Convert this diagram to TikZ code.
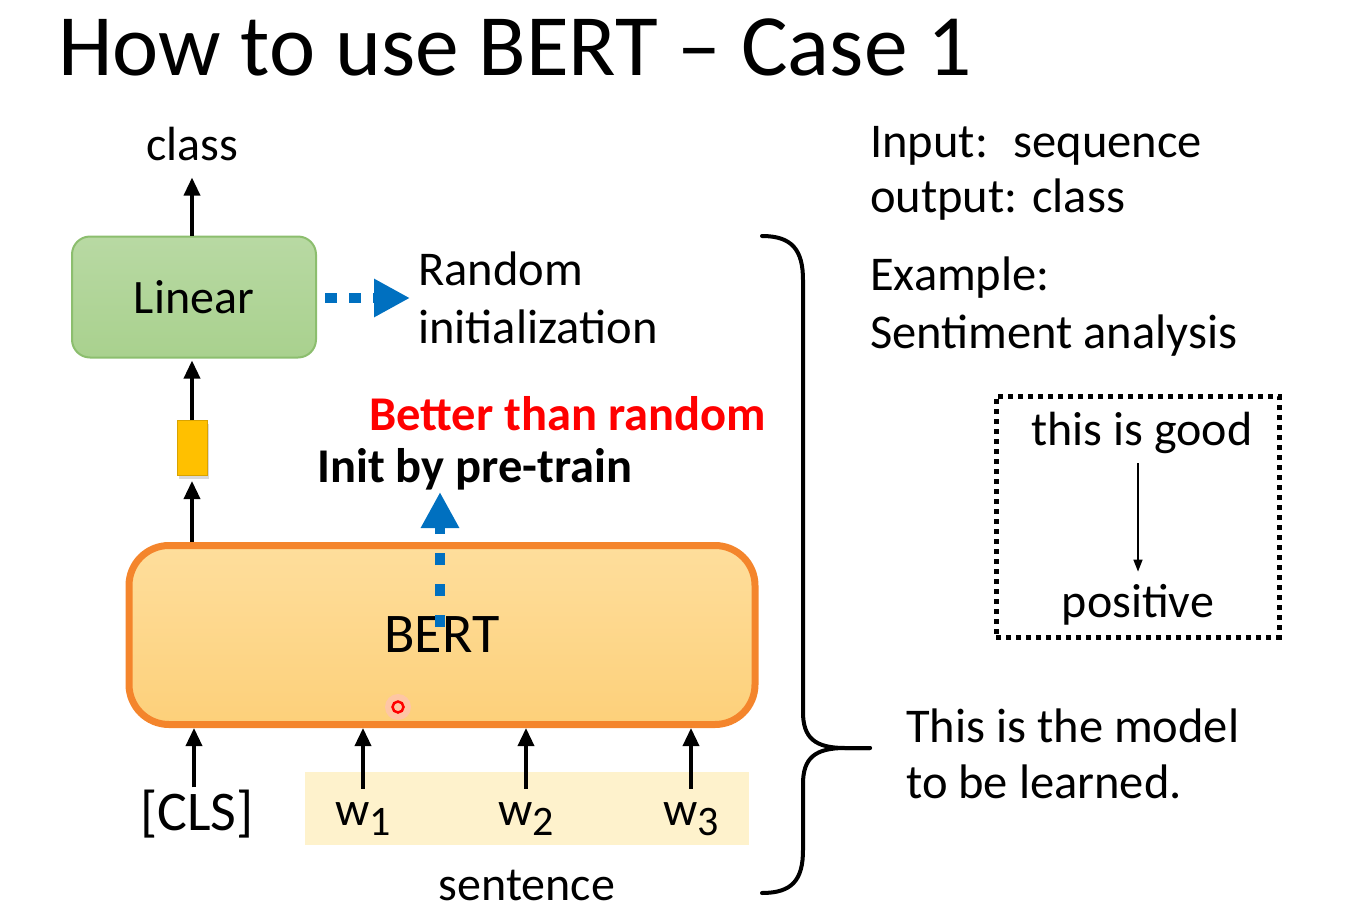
\documentclass[tikz,border=0pt]{standalone}
\usepackage{fontspec}
\setmainfont{Carlito}
\usetikzlibrary{positioning,arrows.meta,shadows}
\definecolor{linearFill}{RGB}{169,209,142}
\definecolor{linearTop}{RGB}{184,217,163}
\definecolor{linearLine}{RGB}{140,190,110}
\definecolor{bertLine}{RGB}{244,133,44}
\definecolor{bertTop}{RGB}{254,222,156}
\definecolor{bertBottom}{RGB}{253,208,122}
\definecolor{vectorFill}{RGB}{255,192,0}
\definecolor{bandFill}{RGB}{254,242,204}
\definecolor{initBlue}{RGB}{0,112,192}
\tikzstyle{plainText} = [font=\fontsize{48}{56}\selectfont, inner sep=0pt]
\tikzstyle{sideText} = [font=\fontsize{48.5}{56}\selectfont, inner sep=0pt, anchor=base west]
\tikzstyle{boldText} = [font=\fontsize{48.5}{56}\selectfont\bfseries, inner sep=0pt, anchor=base west]
\tikzstyle{titleText} = [font=\fontsize{87.5}{90}\selectfont, inner sep=0pt, anchor=base west]
\tikzstyle{linearBox} = [draw=linearLine, line width=2pt, rounded corners=18pt, top color=linearTop, bottom color=linearFill, minimum width=244pt, minimum height=121pt, font=\fontsize{48}{56}\selectfont]
\tikzstyle{bertBox} = [draw=bertLine, line width=7pt, rounded corners=40pt, top color=bertTop, bottom color=bertBottom, minimum width=626pt, minimum height=179pt, font=\fontsize{56}{60}\selectfont]
\tikzstyle{vectorBox} = [draw=vectorFill!85!black, line width=1pt, fill=vectorFill, minimum width=30pt, minimum height=55pt, drop shadow={shadow xshift=2pt, shadow yshift=-3pt, opacity=0.3}]
\tikzstyle{sentenceBand} = [fill=bandFill, minimum width=444pt, minimum height=73pt]
\tikzstyle{exampleBox} = [draw, line width=5pt, dash pattern=on 5pt off 5pt, minimum width=283pt, minimum height=241pt]
\tikzstyle{blackArrow} = [line width=3.5pt, -{Triangle[width=16pt,length=18pt]}]
\tikzstyle{thinArrow} = [line width=1.5pt, -{Triangle[width=9pt,length=12pt]}]
\tikzstyle{initArrow} = [initBlue, line width=10pt, -{Triangle[width=36pt,length=36pt]}]
\tikzstyle{braceLine} = [line width=4pt, line cap=round]
\tikzstyle{laserDot} = [circle, draw=red, line width=2.5pt, minimum size=11pt, inner sep=0pt]
\newcommand{\token}[1]{w\raisebox{-10pt}{\fontsize{42}{42}\selectfont #1}}

\begin{document}
\begin{tikzpicture}[x=1pt, y=-1pt]
  \useasboundingbox (0,0) rectangle (1347,913);
  \node[titleText] (title) at (58,75) {How to use BERT – Case 1};

  % model column
  \node[linearBox] (linear) at (194,297) {Linear};
  \node[bertBox] (bert) at (442,635) {BERT};
  \node[vectorBox] (vector) at (192,448) {};
  \node[plainText, anchor=base] (class) at (192,160) {class};
  \draw[blackArrow] (bert.north -| vector) -- ([yshift=-5pt]vector.south);
  \draw[blackArrow] (vector.north) -- ([yshift=-2pt]linear.south -| vector);
  \draw[blackArrow] (linear.north -| vector) -- ([yshift=-17pt]class.south);

  % input tokens
  \node[sentenceBand] (band) at (527,808.5) {};
  \node[plainText, anchor=base, font=\fontsize{56}{60}\selectfont] (cls) at (197,830) {[CLS]};
  \foreach \name/\x/\i in {w1/363/1, w2/526/2, w3/691/3} {
    \node[plainText, anchor=base] (\name) at (\x,825) {\token{\i}};
    \draw[blackArrow] ([yshift=13pt]\name.north) -- (\name.north |- bert.south);
  }
  \draw[blackArrow] ([xshift=-3pt, yshift=2pt]cls.north) -- ([xshift=-3pt]cls.north |- bert.south);
  \node[plainText, anchor=base] (sentence) at (527,900) {sentence};

  % initialization
  \node[sideText] (random) at (418,285) {Random};
  \node[sideText] (initial) at (418,343) {initialization};
  \node[boldText, red] (better) at (369,430) {Better than random};
  \node[boldText] (pretrain) at (317,482) {Init by pre-train};
  \coordinate (randomTip) at (410,298);
  \coordinate (pretrainTip) at (440,492);
  \coordinate (pretrainStart) at (440,627);
  \draw[initArrow, dash pattern=on 12pt off 12pt] ([xshift=8pt]linear.east |- randomTip) -- (randomTip);
  \draw[initArrow, dash pattern=on 12pt off 19pt] (pretrainStart) -- (pretrainTip);

  % laser pointer
  \node[circle, fill=red!25, opacity=0.6, minimum size=26pt] (glow) at (398,707) {};
  \node[laserDot] (pointer) at (glow) {};

  % task description
  \node[sideText] (input) at (870,157) {Input:~ sequence};
  \node[sideText] (output) at (870,212) {output: class};
  \node[sideText] (example) at (870,290) {Example:};
  \node[sideText] (sentiment) at (870,348) {Sentiment analysis};
  \node[exampleBox] (exbox) at (1137.5,516.5) {};
  \node[plainText, anchor=base] (good) at (1142,445) {this is good};
  \node[plainText, anchor=base] (positive) at (1138,617) {positive};
  \draw[thinArrow] ([yshift=-10pt]good.south -| positive) -- ([yshift=12pt]positive.north);

  % brace
  \coordinate (braceTip) at (870,748);
  \draw[braceLine] (762,236) .. controls (792,236) and (803,250) .. (803,280) -- (803,712)
    .. controls (803,738) and (815,748) .. (845,748) -- (braceTip);
  \draw[braceLine] (braceTip) -- (845,748) .. controls (815,748) and (803,758) .. (803,784)
    -- (803,850) .. controls (803,880) and (792,893) .. (762,893);
  \node[sideText] (model) at (906,742) {This is the model};
  \node[sideText] (learned) at (906,798) {to be learned.};
\end{tikzpicture}
\end{document}
